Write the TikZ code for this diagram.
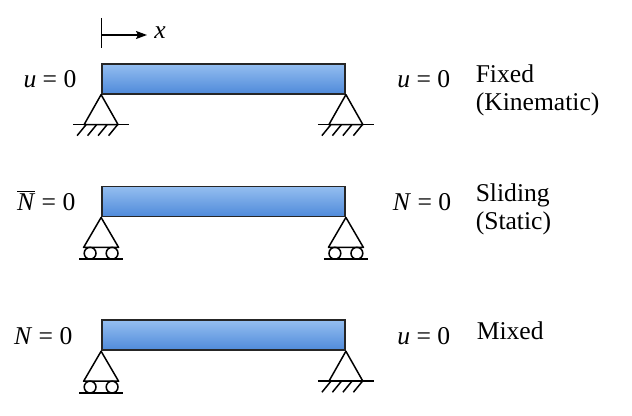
\documentclass[tikz,border=0pt]{standalone}
\usepackage{fontspec}
\setmainfont{Liberation Serif}
\usepackage{tikz}
\usetikzlibrary{arrows.meta}
\usetikzlibrary{positioning}

\definecolor{beamtop}{HTML}{94BEF0}
\definecolor{beambot}{HTML}{4F8ADA}

\begin{document}
\begin{tikzpicture}[x=0.5pt, y=-0.5pt, line width=0.75pt,
    font=\fontsize{12.8}{14}\selectfont,
    beam/.style={draw=black!85, line width=0.9pt, top color=beamtop, bottom color=beambot,
        minimum width=121.5pt, minimum height=15pt, inner sep=0pt},
    bc/.style={inner sep=0pt, text height=9pt, text depth=0pt},
    fixed/.pic={
        \draw[line join=round] (0,0) -- (-17,30) -- (17,30) -- cycle;
        \draw (-28,30) -- (28,30);
        \foreach \h in {-15,-4.5,6,16.5} \draw (\h,30) -- ++(-9,11);
    },
    roller/.pic={
        \draw[line join=round] (0,0) -- (-17.5,30) -- (17.5,30) -- cycle;
        \draw (-11,35.8) circle[radius=5.9];
        \draw (11,35.8) circle[radius=5.9];
        \draw (-22,41.7) -- (22,41.7);
    }]
    \useasboundingbox (0,0) rectangle (632,416);

    % beams
    \node[beam] (b1) at (223.5,78.75) {};
    \node[beam] (b2) [below=45.5pt of b1] {};
    \node[beam] (b3) [below=51pt of b2] {};

    % supports
    \pic at (b1.south west) {fixed};
    \pic at (b1.south east) {fixed};
    \pic at (b2.south west) {roller};
    \pic at (b2.south east) {roller};
    \pic at (b3.south west) {roller};
    \pic at (b3.south east) {fixed};

    % x axis
    \coordinate (t0) at (101.5,18);
    \coordinate (t1) at (101.5,48);
    \coordinate (ox) at (101.5,35);
    \node[anchor=west] (xl) at (147,33) {\textit{x}};
    \draw (t0) -- (t1);
    \draw[-{Stealth[length=5.5pt,width=4pt,inset=1pt]}] (ox) -- (ox -| xl.west);

    % boundary conditions
    \node[bc, left=12pt of b1] (l1) {\textit{u} = 0};
    \node[bc, left=12.5pt of b2] (l2) {$\overline{\mbox{\textit{N}}}$ = 0};
    \node[bc, left=14pt of b3] (l3) {\textit{N} = 0};
    \node[bc, anchor=east, xshift=52.5pt] (r1) at (b1.east) {\textit{u} = 0};
    \node[bc, anchor=east, xshift=53pt] (r2) at (b2.east) {\textit{N} = 0};
    \node[bc, anchor=east, xshift=52.5pt] (r3) at (b3.east) {\textit{u} = 0};

    % descriptions
    \node[anchor=base west, inner sep=0pt] (d1) at (475,82.7) {Fixed};
    \node[anchor=base west, inner sep=0pt] (d1b) at (475,110.7) {(Kinematic)};
    \node[anchor=base west, inner sep=0pt] (d2) at (475,201.7) {Sliding};
    \node[anchor=base west, inner sep=0pt] (d2b) at (475,229.7) {(Static)};
    \node[anchor=base west, inner sep=0pt] (d3) at (476,340) {Mixed};
\end{tikzpicture}
\end{document}
